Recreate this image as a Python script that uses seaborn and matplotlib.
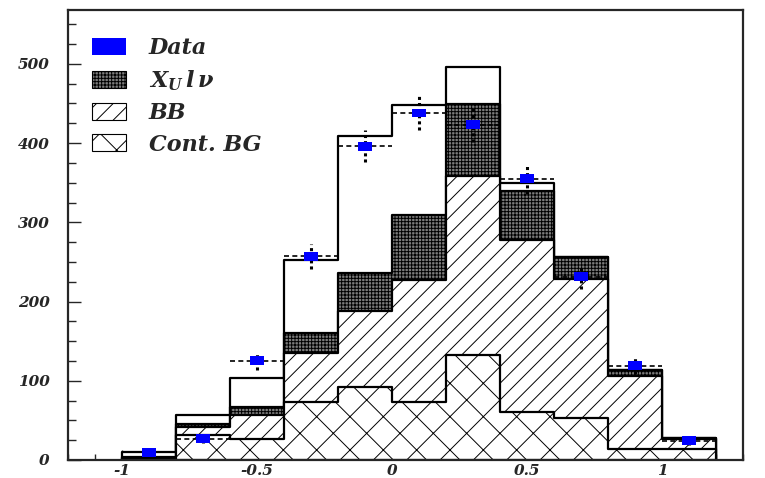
import numpy as np
import pandas as pd
import matplotlib
matplotlib.use("Agg")
import matplotlib.pyplot as plt
import seaborn as sns
from matplotlib.patches import Patch
from matplotlib.path import Path
from matplotlib.ticker import MultipleLocator

# Binning: 11 bins of width 0.2 from -1 to 1.2
bin_edges = [-1.0, -0.8, -0.6, -0.4, -0.2, 0.0, 0.2, 0.4, 0.6, 0.8, 1.0, 1.2]

# Observed events and their statistical errors
data_counts = [10, 27, 125, 257, 396, 438, 423, 355, 231, 119, 24]
data_errors = [3, 5, 11, 16, 20, 21, 21, 19, 15, 11, 5]

# Fit result (open histogram) and the stacked background components
fit_total = [10, 57, 103, 252, 409, 448, 496, 350, 256, 113, 28]
xu_lnu = [2, 4, 10, 25, 48, 82, 90, 61, 28, 7, 1]
bb_bkg = [2, 9, 30, 62, 96, 154, 226, 218, 175, 92, 13]
cont_bg = [0, 32, 27, 73, 92, 73, 133, 60, 53, 14, 14]

legend_labels = ["Data", r"$X_U\,l\,\nu$", "BB", "Cont. BG"]
x_tick_values = [-1, -0.5, 0, 0.5, 1]
x_tick_labels = ["-1", "-0.5", "0", "0.5", "1"]
y_tick_values = [0, 100, 200, 300, 400, 500]
y_tick_labels = ["0", "100", "200", "300", "400", "500"]

sns.set_style("ticks")
plt.rcParams["font.family"] = ["DejaVu Serif"]
plt.rcParams["mathtext.fontset"] = "custom"
plt.rcParams["mathtext.rm"] = "DejaVu Serif:bold:italic"
plt.rcParams["mathtext.it"] = "DejaVu Serif:bold:italic"
plt.rcParams["mathtext.bf"] = "DejaVu Serif:bold:italic"
plt.rcParams["hatch.linewidth"] = 0.7
plt.rcParams["hatch.color"] = "black"

edges = np.array(bin_edges)
centers = 0.5 * (edges[:-1] + edges[1:])

df = pd.DataFrame({
    "x": centers,
    "data": data_counts,
    "err": data_errors,
    "total": fit_total,
    "cont": cont_bg,
    "bb": bb_bkg,
    "xu": xu_lnu,
})
df["bb_cum"] = df["cont"] + df["bb"]
df["xu_cum"] = df["bb_cum"] + df["xu"]

fig = plt.figure(figsize=(7.65, 4.78), dpi=100)
ax = fig.add_axes([0.0889, 0.0377, 0.8824, 0.9414])

# Stack drawn from the outermost layer inwards, each opaque layer covering the next
layers = [
    ("total", "white", None, 1),
    ("xu_cum", "#7c7c7c", "+++++", 2),
    ("bb_cum", "white", "//", 3),
    ("cont", "white", "x", 4),
]
for col, face, hatch, z in layers:
    sns.histplot(data=df, x="x", weights=col, bins=bin_edges, element="step",
                 fill=True, ax=ax, facecolor=face, edgecolor="black",
                 linewidth=1.6, hatch=hatch, alpha=None, zorder=z)

# Data points with bin-width (dashed) and statistical (dotted) error bars
lo = df["data"] - df["err"]
hi = df["data"] + df["err"]
ax.hlines(df["data"], edges[:-1], edges[1:], colors="black",
          linestyles=(0, (3, 2)), linewidth=1.2, zorder=8)
ax.vlines(df["x"], lo, hi, colors="black", linestyles=(0, (1, 1)),
          linewidth=2.2, zorder=8)
rect_marker = Path([(-1.55, -1), (1.55, -1), (1.55, 1), (-1.55, 1), (-1.55, -1)],
                   [Path.MOVETO, Path.LINETO, Path.LINETO, Path.LINETO, Path.CLOSEPOLY])
sns.scatterplot(data=df, x="x", y="data", marker=rect_marker, s=100,
                color="#0000ff", edgecolor="none", linewidth=0, ax=ax, zorder=9)

ax.set_xlim(-1.2, 1.3)
ax.set_ylim(0, 568)
ax.set_xlabel("")
ax.set_ylabel("")

ax.set_xticks(x_tick_values, labels=x_tick_labels)
ax.set_yticks(y_tick_values, labels=y_tick_labels)
ax.xaxis.set_minor_locator(MultipleLocator(0.1))
ax.yaxis.set_minor_locator(MultipleLocator(25))
ax.tick_params(axis="x", which="major", direction="in", length=7, width=1.0,
               pad=3, labelsize=11)
ax.tick_params(axis="x", which="minor", direction="in", length=4, width=1.0)
ax.tick_params(axis="y", which="major", direction="in", length=9, width=1.0,
               pad=13, labelsize=11)
ax.tick_params(axis="y", which="minor", direction="in", length=6, width=1.0)
for lab in ax.get_xticklabels() + ax.get_yticklabels():
    lab.set_fontweight("bold")
    lab.set_fontstyle("italic")

for side in ["left", "bottom", "top", "right"]:
    ax.spines[side].set_visible(True)
    ax.spines[side].set_linewidth(1.6)
    ax.spines[side].set_zorder(20)

handles = [
    Patch(facecolor="#0000ff", edgecolor="none"),
    Patch(facecolor="#7c7c7c", edgecolor="black", hatch="+++++", linewidth=0.8),
    Patch(facecolor="white", edgecolor="black", hatch="//", linewidth=0.8),
    Patch(facecolor="white", edgecolor="black", hatch="x", linewidth=0.8),
]
leg = ax.legend(handles, legend_labels, loc="upper left",
                bbox_to_anchor=(0.036, 0.94), frameon=False, borderpad=0,
                borderaxespad=0, handlelength=1.5, handleheight=0.8,
                handletextpad=1.05, labelspacing=0.42,
                prop={"family": "DejaVu Serif", "weight": "bold",
                      "style": "italic", "size": 16})

fig.savefig("out.png", dpi=100)
